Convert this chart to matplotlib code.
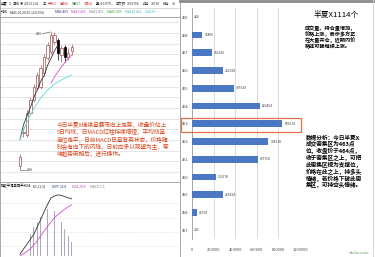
import matplotlib

matplotlib.use("Agg")
import matplotlib.pyplot as plt
from matplotlib.patches import Rectangle
import numpy as np

plt.rcParams["font.family"] = ["Noto Sans CJK SC", "DejaVu Sans"]

W, H = 375, 257

# price-level volume (right chart)
LEVELS = ["469", "468", "467", "466", "465", "464", "463",
          "462", "461", "460", "459", "458", "457"]
VOLUMES = [428, 96400, 182920, 282928, 385520, 626454, 836274,
           708218, 607754, 219678, 287424, 45758, 206]
XTICKS = [0, 200000, 400000, 600000, 800000, 1000000]

# daily candles (left screenshot)
OPEN = [389, 411.5, 410, 425, 434, 442.5, 443, 453, 463, 467, 474, 475.5, 465, 470.5, 464, 468]
CLOSE = [395, 411.5, 425, 434, 443, 451.5, 456, 464, 472, 479, 479, 466.5, 470, 464, 466.5, 470.5]
HIGH = [397, 415, 427, 436, 445, 453.5, 458, 466, 474, 481, 481, 477, 472, 472, 470, 472.5]
LOW = [386, 409, 408.5, 424, 433, 441, 442, 451, 461.5, 466, 472.5, 461.5, 460, 460, 461.5, 465]
MA5 = [407, 417, 423, 429, 436, 441, 447, 451, 458, 463, 468, 472]
MA10 = [446, 450, 453.5, 457, 460, 463, 465]          # from candle 9
MA20 = [406.6, 413.5, 419, 423.9, 428, 432.1, 435.6, 438.3, 441.1,
        443.1, 445.2, 446.6, 448, 449.3, 450.4, 451.4]

# MACD panel
MACD_HIST = [4.8, 8.8, 11.6, 14, 16, 18, 19.2, 19.6, 18.4, 16.4, 14, 10.8, 8, 5.6]  # from candle 2
DIFF = [0.8, 2.8, 4.8, 6.8, 8.8, 11.8, 14.8, 18, 21, 23.6, 24.4, 24.8, 24.6, 24.1, 23.6, 23.2]
DEA = [0.2, 0.8, 1.8, 3.0, 4.4, 6.2, 8.2, 10.2, 12, 13.8, 15.6, 16.8, 18, 19, 20, 20.8]

NOTE_LEFT = ["今日半夏X继续呈震荡向上走势，收盘价站上",
             "5日均线，日MACD红柱持续缩短，平均线呈",
             "高位走平，日前MACD已呈背离状态，价格随",
             "时会有向下的风险，日前应多以观望为主，等",
             "待趋势明朗后，进行操作。"]
TITLE_RIGHT = "半夏X1114个"
NOTE_TOP = ["成交量、持仓量增加，", "价格上涨，表示多方正",
            "在大量开仓，近期内价", "格还可能继续上涨。"]
NOTE_BOTTOM = ["数据分析：今日半夏X", "成交密集区为463点", "位，收盘价于464点，",
               "收于密集区之上，可把", "此密集区视为支撑位，", "价格在此之上，持多头",
               "情绪，若价格下破此密", "集区，可持空头情绪。"]


def px(l, t, r, b):
    return [l / W, 1 - b / H, (r - l) / W, (b - t) / H]


fig = plt.figure(figsize=(3.75, 2.57), dpi=100)

# ---- candle panel ----
ax = fig.add_axes(px(0, 17, 179, 181))
ax.set_xlim(-5.8, 46.1)
ax.set_ylim(378.4, 491.3)
ax.axis("off")
for g in np.arange(487.6, 379, -7.36):
    ax.axhline(g, color="#dcdcdc", lw=0.5, zorder=0)
idx = np.arange(len(OPEN))
for i in idx:
    o, c = OPEN[i], CLOSE[i]
    up = c >= o
    ec = "#9a5555" if up else "black"
    ax.vlines(i, LOW[i], HIGH[i], color=ec, lw=0.5, zorder=2)
    ax.bar(i, max(abs(c - o), 0.35), bottom=min(o, c), width=0.7,
           facecolor="white" if up else "black", edgecolor=ec, lw=0.5, zorder=3)
ax.plot(idx[:len(MA5)], MA5, color="#333333", lw=0.6, zorder=4)
ax.plot(idx[9:], MA10, color="#d050d0", lw=0.6, zorder=4)
ax.plot(idx, MA20, color="#70dede", lw=0.7, zorder=4)
ax.plot([0, 1.9], [LOW[0], LOW[0]], color="#555555", lw=0.4)
ax.text(2.0, LOW[0], "386", fontsize=2.6, va="center", color="#333333")
ax.plot([6.5, 8.9], [479.8, HIGH[9]], color="#555555", lw=0.4)
ax.text(6.4, 479.8, "481", fontsize=2.6, va="center", ha="right", color="#333333")

# ---- MACD panel ----
am = fig.add_axes(px(0, 190, 179, 257))
am.set_xlim(-5.8, 46.1)
am.set_ylim(-0.4, 26.8)
am.axis("off")
for g in (21.6, 15.6, 9.6, 4.0):
    am.axhline(g, color="#dcdcdc", lw=0.5, ls=(0, (1, 1)), zorder=0)
am.bar(idx[2:], MACD_HIST, width=0.2, color="#b2a6bc", zorder=2)
am.plot(idx, DIFF, color="#333333", lw=0.6, zorder=3)
am.plot(idx, DEA, color="#d050d0", lw=0.6, zorder=3)

# ---- price-level bar chart ----
ab = fig.add_axes(px(192, 8.4, 300, 239.2))
ypos = np.arange(len(LEVELS))
ab.barh(ypos, VOLUMES, height=0.38, color="#4a78c2", zorder=3)
ab.set_ylim(len(LEVELS) - 0.5, -0.5)
ab.set_xlim(0, 1000000)
ab.set_yticks(ypos, LEVELS)
ab.set_xticks(XTICKS, [str(t) for t in XTICKS])
ab.tick_params(axis="y", length=0, pad=2.5, labelsize=2.8, labelcolor="#404040")
ab.tick_params(axis="x", length=0, pad=6, labelsize=2.8, labelcolor="#404040")
ab.grid(axis="x", color="#d4d4d4", lw=0.6, zorder=0)
for s in ("top", "right", "bottom"):
    ab.spines[s].set_visible(False)
ab.spines["left"].set_color("#a0a0a0")
ab.spines["left"].set_linewidth(0.6)
for y, v in zip(ypos, VOLUMES):
    ab.annotate(str(v), (v, y), xytext=(1.6, 0), textcoords="offset points",
                fontsize=2.4, va="center", color="#404040")

# ---- overlay: frames and notes ----
ov = fig.add_axes([0, 0, 1, 1], facecolor="none")
ov.set_xlim(0, W)
ov.set_ylim(H, 0)
ov.axis("off")
ov.plot([0, 179.5], [7.8, 7.8], color="#c8c8c8", lw=0.5)
ov.plot([0, 179.5], [16.5, 16.5], color="#9a9a9a", lw=0.6)
ov.plot([0, 179.5], [181.5, 181.5], color="#9a9a9a", lw=0.6)
ov.plot([179.5, 179.5], [0, H], color="#9a9a9a", lw=0.6)
ov.plot([0.4, 0.4], [0, H], color="#9a9a9a", lw=0.6)
ov.plot([180, W], [1, 1], color="#8a8a8a", lw=2.0)
ov.plot([372.5, 372.5], [0, H], color="#d0d0d0", lw=0.6)
ov.add_patch(Rectangle((181, 118), 120, 14, fill=False, ec="#e0724c", lw=0.9))

row1 = [("半夏", 1, "black"), ("1", 9, "black"), ("日线", 12, "black"), ("▼", 20, "#333"),
        ("20151114", 24, "#333"), ("五", 43, "#333"), ("开463", 48, "#c03030"),
        ("高468", 60, "#c03030"), ("低457", 72, "#208020"), ("收464", 84, "#c03030"),
        ("量", 96, "#333"), ("4 0.07%", 100, "#333"), ("成交额", 116, "#333"),
        ("3670768", 127, "#333"), ("持仓", 143, "#333"), ("38710", 151, "#333"),
        ("增仓", 163, "#333"), ("14", 172, "#333")]
for t, x, c in row1:
    ov.text(x, 3.8, t, fontsize=2.4, color=c, va="center")
row2 = [("均线", 1, "black"), ("MA(5,10,20,60,120,250)", 10, "#333"),
        ("MA5 463", 55, "#203080"), ("MA10 465", 71, "#c040c0"),
        ("MA20 451", 89, "#808080"), ("MA60 439", 107, "#40a040"),
        ("MA120 421", 125, "#40b0c0"), ("MA250 —", 145, "#50c8c8")]
for t, x, c in row2:
    ov.text(x, 12.2, t, fontsize=2.4, color=c, va="center")
row3 = [("指数平滑异同平均线", 1, "black"), ("(26,12,9)", 33, "#333"),
        ("DIFF 26.8", 52, "#203080"), ("DEA 20.8", 72, "#c040c0"),
        ("MACD 5.6", 90, "#808080")]
for t, x, c in row3:
    ov.text(x, 186.5, t, fontsize=2.4, color=c, va="center")

for k, line in enumerate(NOTE_LEFT):
    ov.text(56.5, 125 + 7.3 * k, line, fontsize=4.1, color="#d8441c", va="center")

ov.text(336, 15, TITLE_RIGHT, fontsize=5.6, ha="center", va="center", color="black")
for k, line in enumerate(NOTE_TOP):
    ov.text(305, 28.5 + 6.0 * k, line, fontsize=3.7, va="center", color="black",
            fontweight="bold")
for k, line in enumerate(NOTE_BOTTOM):
    ov.text(306, 137 + 6.9 * k, line, fontsize=4.1, va="center", color="black",
            fontweight="bold")
ov.text(369, 252.5, "dfcfw.com", fontsize=3, ha="right", va="center", color="#5aa05a")

fig.savefig("out.png", dpi=100)
